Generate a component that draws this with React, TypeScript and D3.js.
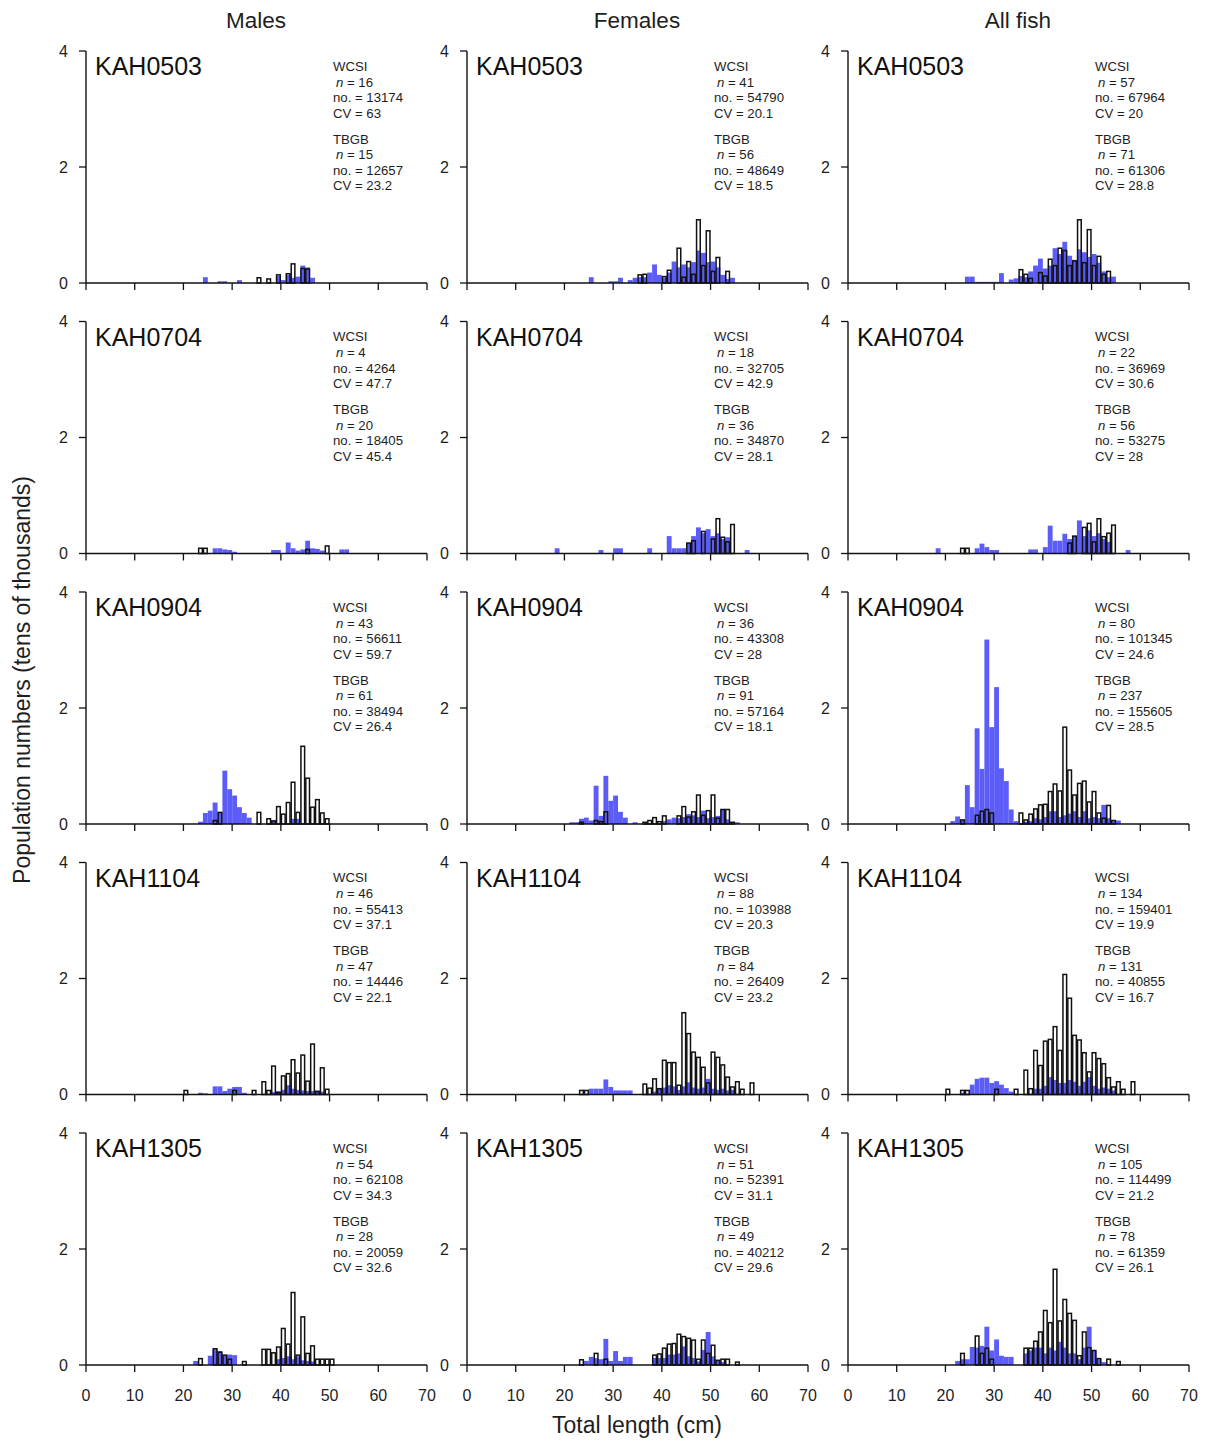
import React from "react";
import * as d3 from "d3";

type Bin = [number, number];

const columnTitles = ["Males", "Females", "All fish"];
const surveys = ["KAH0503", "KAH0704", "KAH0904", "KAH1104", "KAH1305"];
const xTicks = [0, 10, 20, 30, 40, 50, 60, 70];
const yTicks = [0, 2, 4];

// ---- KAH0503 ----
const M0503_WCSI: Bin[] = [[24,0.1],[27,0.03],[28,0.03],[31,0.05],[39,0.12],[40,0.05],[41,0.14],[42,0.09],[43,0.11],[44,0.3],[45,0.27],[46,0.09]];
const M0503_TBGB: Bin[] = [[35,0.09],[37,0.07],[39,0.14],[41,0.16],[42,0.33],[44,0.25],[45,0.24]];
const F0503_WCSI: Bin[] = [[25,0.1],[29,0.03],[30,0.03],[31,0.09],[33,0.05],[34,0.09],[35,0.1],[36,0.1],[37,0.18],[38,0.32],[39,0.14],[40,0.09],[41,0.18],[42,0.37],[43,0.27],[44,0.32],[45,0.27],[46,0.36],[47,0.56],[48,0.52],[49,0.36],[50,0.37],[51,0.27],[52,0.14],[53,0.07],[54,0.09]];
const F0503_TBGB: Bin[] = [[35,0.14],[36,0.15],[40,0.11],[41,0.22],[43,0.6],[44,0.1],[45,0.37],[46,0.15],[47,1.09],[48,0.3],[49,0.9],[50,0.2],[51,0.44],[53,0.2]];
const A0503_WCSI: Bin[] = [[24,0.11],[25,0.11],[26,0.02],[27,0.02],[28,0.02],[29,0.02],[30,0.02],[31,0.17],[33,0.06],[34,0.08],[35,0.12],[36,0.1],[37,0.2],[38,0.3],[39,0.42],[40,0.25],[41,0.3],[42,0.6],[43,0.5],[44,0.71],[45,0.47],[46,0.4],[47,0.58],[48,0.53],[49,0.45],[50,0.5],[51,0.35],[52,0.2],[53,0.1],[54,0.11]];
const A0503_TBGB: Bin[] = [[35,0.23],[36,0.15],[37,0.08],[39,0.18],[40,0.12],[41,0.41],[42,0.3],[43,0.6],[44,0.56],[45,0.3],[46,0.38],[47,1.09],[48,0.35],[49,0.92],[50,0.3],[51,0.46],[52,0.15],[53,0.2]];

// ---- KAH0704 ----
const M0704_WCSI: Bin[] = [[26,0.09],[27,0.09],[28,0.07],[29,0.06],[30,0.03],[38,0.06],[39,0.06],[41,0.19],[42,0.09],[43,0.05],[44,0.07],[45,0.22],[46,0.09],[47,0.08],[48,0.05],[52,0.07],[53,0.07]];
const M0704_TBGB: Bin[] = [[23,0.09],[24,0.09],[45,0.07],[49,0.13]];
const F0704_WCSI: Bin[] = [[18,0.09],[27,0.06],[30,0.09],[31,0.09],[37,0.09],[41,0.3],[42,0.09],[43,0.09],[44,0.09],[45,0.18],[46,0.3],[47,0.45],[48,0.35],[49,0.42],[50,0.3],[51,0.35],[52,0.25],[53,0.28],[57,0.06]];
const F0704_TBGB: Bin[] = [[45,0.18],[46,0.22],[48,0.38],[50,0.25],[51,0.6],[52,0.28],[53,0.2],[54,0.5]];
const A0704_WCSI: Bin[] = [[18,0.09],[26,0.09],[27,0.17],[28,0.11],[29,0.06],[30,0.06],[37,0.07],[38,0.07],[40,0.11],[41,0.48],[42,0.22],[43,0.22],[44,0.34],[45,0.25],[46,0.3],[47,0.57],[48,0.3],[49,0.4],[50,0.3],[51,0.35],[52,0.25],[53,0.2],[57,0.06]];
const A0704_TBGB: Bin[] = [[23,0.09],[24,0.09],[45,0.18],[46,0.3],[48,0.45],[49,0.52],[50,0.2],[51,0.6],[52,0.29],[53,0.35],[54,0.49]];

// ---- KAH0904 ----
const M0904_WCSI: Bin[] = [[23,0.04],[24,0.19],[25,0.23],[26,0.37],[27,0.2],[28,0.92],[29,0.6],[30,0.49],[31,0.29],[32,0.19],[33,0.11],[38,0.07],[42,0.09],[43,0.09]];
const M0904_TBGB: Bin[] = [[26,0.06],[27,0.2],[35,0.2],[37,0.09],[38,0.05],[39,0.3],[40,0.17],[41,0.37],[42,0.72],[43,0.2],[44,1.34],[45,0.79],[46,0.29],[47,0.42],[48,0.19],[49,0.09]];
const F0904_WCSI: Bin[] = [[21,0.03],[22,0.03],[23,0.09],[24,0.11],[25,0.06],[26,0.66],[27,0.14],[28,0.83],[29,0.4],[30,0.49],[31,0.21],[32,0.11],[34,0.03],[40,0.05],[41,0.08],[42,0.11],[43,0.1],[44,0.12],[45,0.17],[46,0.15],[47,0.12],[48,0.23],[49,0.1],[50,0.12],[51,0.14],[52,0.25],[53,0.08],[55,0.03]];
const F0904_TBGB: Bin[] = [[23,0.03],[26,0.06],[27,0.04],[28,0.21],[36,0.03],[37,0.06],[38,0.11],[39,0.04],[40,0.14],[43,0.14],[44,0.3],[45,0.12],[46,0.21],[47,0.5],[48,0.15],[49,0.23],[50,0.5],[51,0.1],[52,0.25],[53,0.25],[54,0.03]];
const A0904_WCSI: Bin[] = [[21,0.05],[22,0.13],[23,0.07],[24,0.67],[25,0.29],[26,1.65],[27,0.95],[28,3.18],[29,1.67],[30,2.36],[31,0.96],[32,0.74],[33,0.25],[34,0.05],[36,0.04],[37,0.05],[38,0.1],[39,0.08],[40,0.12],[41,0.22],[42,0.22],[43,0.12],[44,0.15],[45,0.18],[46,0.22],[47,0.12],[48,0.22],[49,0.1],[50,0.12],[51,0.1],[52,0.33],[53,0.1],[54,0.05],[55,0.06]];
const A0904_TBGB: Bin[] = [[23,0.07],[26,0.15],[27,0.22],[28,0.25],[29,0.19],[35,0.19],[36,0.07],[37,0.17],[38,0.26],[39,0.33],[40,0.34],[41,0.56],[42,0.69],[43,0.57],[44,1.67],[45,0.93],[46,0.5],[47,0.7],[48,0.74],[49,0.38],[50,0.56],[51,0.19],[52,0.1],[53,0.32],[54,0.06]];

// ---- KAH1104 ----
const M1104_WCSI: Bin[] = [[23,0.03],[24,0.02],[26,0.14],[27,0.14],[28,0.06],[29,0.1],[30,0.13],[31,0.13],[32,0.03],[38,0.04],[39,0.06],[40,0.08],[41,0.16],[42,0.1],[43,0.08],[44,0.07],[45,0.06],[46,0.06],[47,0.07],[48,0.05]];
const M1104_TBGB: Bin[] = [[20,0.07],[30,0.07],[34,0.07],[36,0.22],[37,0.07],[38,0.49],[39,0.03],[40,0.32],[41,0.36],[42,0.6],[43,0.37],[44,0.68],[45,0.23],[46,0.87],[47,0.05],[48,0.46],[49,0.09]];
const F1104_WCSI: Bin[] = [[25,0.1],[26,0.1],[27,0.1],[28,0.26],[29,0.13],[30,0.07],[31,0.07],[32,0.07],[33,0.07],[38,0.05],[39,0.1],[40,0.12],[41,0.16],[42,0.14],[43,0.08],[44,0.14],[45,0.21],[46,0.12],[47,0.1],[48,0.12],[49,0.27],[50,0.1],[51,0.08],[52,0.1],[53,0.07],[54,0.08]];
const F1104_TBGB: Bin[] = [[23,0.07],[24,0.07],[36,0.18],[37,0.11],[38,0.27],[39,0.1],[40,0.59],[41,0.55],[42,0.55],[43,0.16],[44,1.41],[45,1.05],[46,0.73],[47,0.64],[48,0.47],[49,0.2],[50,0.73],[51,0.64],[52,0.51],[53,0.3],[54,0.13],[55,0.22],[56,0.09],[58,0.2]];
const A1104_WCSI: Bin[] = [[23,0.03],[25,0.17],[26,0.27],[27,0.29],[28,0.29],[29,0.2],[30,0.23],[31,0.17],[32,0.11],[33,0.05],[38,0.1],[39,0.1],[40,0.15],[41,0.3],[42,0.25],[43,0.2],[44,0.2],[45,0.25],[46,0.22],[47,0.15],[48,0.22],[49,0.3],[50,0.15],[51,0.1],[52,0.12],[53,0.1],[54,0.07]];
const A1104_TBGB: Bin[] = [[20,0.09],[23,0.07],[24,0.07],[30,0.09],[34,0.09],[36,0.42],[37,0.1],[38,0.76],[39,0.5],[40,0.92],[41,0.95],[42,1.17],[43,0.76],[44,2.07],[45,1.66],[46,1.02],[47,0.94],[48,0.72],[49,0.39],[50,0.72],[51,0.62],[52,0.53],[53,0.29],[54,0.13],[55,0.22],[56,0.09],[58,0.22]];

// ---- KAH1305 ----
const M1305_WCSI: Bin[] = [[22,0.07],[25,0.16],[26,0.27],[27,0.24],[28,0.17],[29,0.18],[30,0.17],[39,0.1],[40,0.12],[41,0.15],[42,0.1],[43,0.15],[44,0.08],[45,0.07],[46,0.06]];
const M1305_TBGB: Bin[] = [[23,0.11],[26,0.28],[27,0.22],[28,0.17],[29,0.1],[32,0.06],[36,0.27],[37,0.27],[38,0.21],[39,0.31],[40,0.63],[41,0.36],[42,1.25],[43,0.17],[44,0.83],[45,0.2],[46,0.33],[47,0.1],[48,0.1],[49,0.1],[50,0.1]];
const F1305_WCSI: Bin[] = [[24,0.07],[25,0.14],[26,0.12],[27,0.1],[28,0.45],[29,0.07],[30,0.24],[31,0.07],[32,0.14],[33,0.14],[38,0.12],[39,0.12],[40,0.12],[41,0.18],[42,0.18],[43,0.2],[44,0.32],[45,0.15],[46,0.12],[47,0.06],[48,0.26],[49,0.57],[50,0.15],[51,0.09],[52,0.05]];
const F1305_TBGB: Bin[] = [[23,0.09],[26,0.2],[28,0.1],[38,0.17],[39,0.19],[40,0.29],[41,0.36],[42,0.37],[43,0.53],[44,0.49],[45,0.46],[46,0.43],[47,0.1],[48,0.43],[49,0.2],[50,0.34],[51,0.08],[52,0.1],[53,0.1],[55,0.05]];
const A1305_WCSI: Bin[] = [[22,0.07],[23,0.1],[24,0.1],[25,0.31],[26,0.3],[27,0.33],[28,0.66],[29,0.25],[30,0.44],[31,0.16],[32,0.14],[33,0.14],[36,0.2],[37,0.25],[38,0.3],[39,0.3],[40,0.2],[41,0.3],[42,0.25],[43,0.4],[44,0.3],[45,0.2],[46,0.2],[47,0.1],[48,0.3],[49,0.66],[50,0.25],[51,0.1],[52,0.05]];
const A1305_TBGB: Bin[] = [[23,0.2],[26,0.5],[27,0.2],[28,0.29],[29,0.1],[36,0.29],[37,0.29],[38,0.41],[39,0.57],[40,0.94],[41,0.73],[42,1.65],[43,0.76],[44,1.13],[45,0.89],[46,0.77],[47,0.16],[48,0.57],[49,0.3],[50,0.25],[51,0.11],[53,0.1],[55,0.06]];

// stats: [WCSI n, no., CV, TBGB n, no., CV]
const S0503 = [["16","13174","63","15","12657","23.2"],["41","54790","20.1","56","48649","18.5"],["57","67964","20","71","61306","28.8"]];
const S0704 = [["4","4264","47.7","20","18405","45.4"],["18","32705","42.9","36","34870","28.1"],["22","36969","30.6","56","53275","28"]];
const S0904 = [["43","56611","59.7","61","38494","26.4"],["36","43308","28","91","57164","18.1"],["80","101345","24.6","237","155605","28.5"]];
const S1104 = [["46","55413","37.1","47","14446","22.1"],["88","103988","20.3","84","26409","23.2"],["134","159401","19.9","131","40855","16.7"]];
const S1305 = [["54","62108","34.3","28","20059","32.6"],["51","52391","31.1","49","40212","29.6"],["105","114499","21.2","78","61359","26.1"]];

const wcsiRows: Bin[][][] = [
  [M0503_WCSI, F0503_WCSI, A0503_WCSI],
  [M0704_WCSI, F0704_WCSI, A0704_WCSI],
  [M0904_WCSI, F0904_WCSI, A0904_WCSI],
  [M1104_WCSI, F1104_WCSI, A1104_WCSI],
  [M1305_WCSI, F1305_WCSI, A1305_WCSI],
];
const tbgbRows: Bin[][][] = [
  [M0503_TBGB, F0503_TBGB, A0503_TBGB],
  [M0704_TBGB, F0704_TBGB, A0704_TBGB],
  [M0904_TBGB, F0904_TBGB, A0904_TBGB],
  [M1104_TBGB, F1104_TBGB, A1104_TBGB],
  [M1305_TBGB, F1305_TBGB, A1305_TBGB],
];
const statRows = [S0503, S0704, S0904, S1104, S1305];

const W = 1207;
const H = 1441;
const colX0 = [86, 467, 848];
const panelW = 341;
const rowBase0 = 283;
const rowStep = 270.5;
const panelH = 232;
const FONT = "Liberation Sans, Arial, Helvetica, sans-serif";
const BLUE = "#5c5cf8";
const TXT = "#1e1e1e";

function Panel({ r, c }: { r: number; c: number }) {
  const x0 = colX0[c];
  const base = rowBase0 + r * rowStep;
  const x = d3.scaleLinear().domain([0, 70]).range([x0, x0 + panelW]);
  const y = d3.scaleLinear().domain([0, 4]).range([base, base - panelH]);
  const top = y(4);
  const st = statRows[r][c];
  const tx = x0 + 247;
  return (
    <g>
      {wcsiRows[r][c].map(([b, v], i) => (
        <rect key={"w" + i} x={x(b)} y={y(v)} width={x(b + 1) - x(b)} height={base - y(v)} fill={BLUE} />
      ))}
      {tbgbRows[r][c].map(([b, v], i) => (
        <rect key={"t" + i} x={x(b) + 0.6} y={y(v)} width={x(b + 1) - x(b) - 1.2} height={base - y(v)} fill="none" stroke="#111" strokeWidth={1.5} />
      ))}
      <line x1={x(0)} x2={x(70)} y1={base} y2={base} stroke="#111" strokeWidth={1.4} />
      {xTicks.map((t) => (
        <line key={"xt" + t} x1={x(t)} x2={x(t)} y1={base} y2={base + 7} stroke="#111" strokeWidth={1.3} />
      ))}
      {r === 4 &&
        xTicks.map((t) => (
          <text key={"xl" + t} x={x(t)} y={base + 36} textAnchor="middle" fontSize={16} fontFamily={FONT} fill={TXT}>
            {t}
          </text>
        ))}
      <line x1={x0} x2={x0} y1={base} y2={top} stroke="#111" strokeWidth={1.4} />
      {yTicks.map((t) => (
        <g key={"yt" + t}>
          <line x1={x0 - 7} x2={x0} y1={y(t)} y2={y(t)} stroke="#111" strokeWidth={1.3} />
          <text x={x0 - 18} y={y(t) + 5.5} textAnchor="end" fontSize={16} fontFamily={FONT} fill={TXT}>
            {t}
          </text>
        </g>
      ))}
      <text x={x0 + 9} y={top + 24} fontSize={25} fontFamily={FONT} fill="#111">
        {surveys[r]}
      </text>
      <g fontSize={13.2} fontFamily={FONT} fill={TXT}>
        <text x={tx} y={top + 19.5}>WCSI</text>
        <text x={tx + 3} y={top + 35.5}><tspan fontStyle="italic">n</tspan>{" = " + st[0]}</text>
        <text x={tx} y={top + 51}>{"no. = " + st[1]}</text>
        <text x={tx} y={top + 66.5}>{"CV = " + st[2]}</text>
        <text x={tx} y={top + 92.5}>TBGB</text>
        <text x={tx + 3} y={top + 108}><tspan fontStyle="italic">n</tspan>{" = " + st[3]}</text>
        <text x={tx} y={top + 123.5}>{"no. = " + st[4]}</text>
        <text x={tx} y={top + 139}>{"CV = " + st[5]}</text>
      </g>
    </g>
  );
}

export default function App() {
  const rows = [0, 1, 2, 3, 4];
  const cols = [0, 1, 2];
  return (
    <svg width={W} height={H} style={{ position: "absolute", left: 0, top: 0, background: "#fff" }}>
      <rect x={0} y={0} width={W} height={H} fill="#fff" />
      {columnTitles.map((t, c) => (
        <text key={t} x={colX0[c] + 170} y={28} textAnchor="middle" fontSize={22.5} fontFamily={FONT} fill={TXT}>
          {t}
        </text>
      ))}
      {rows.map((r) => cols.map((c) => <Panel key={r + "-" + c} r={r} c={c} />))}
      <text transform="translate(30,680) rotate(-90)" textAnchor="middle" fontSize={23} fontFamily={FONT} fill={TXT}>
        Population numbers (tens of thousands)
      </text>
      <text x={637} y={1433} textAnchor="middle" fontSize={23} fontFamily={FONT} fill={TXT}>
        Total length (cm)
      </text>
    </svg>
  );
}
